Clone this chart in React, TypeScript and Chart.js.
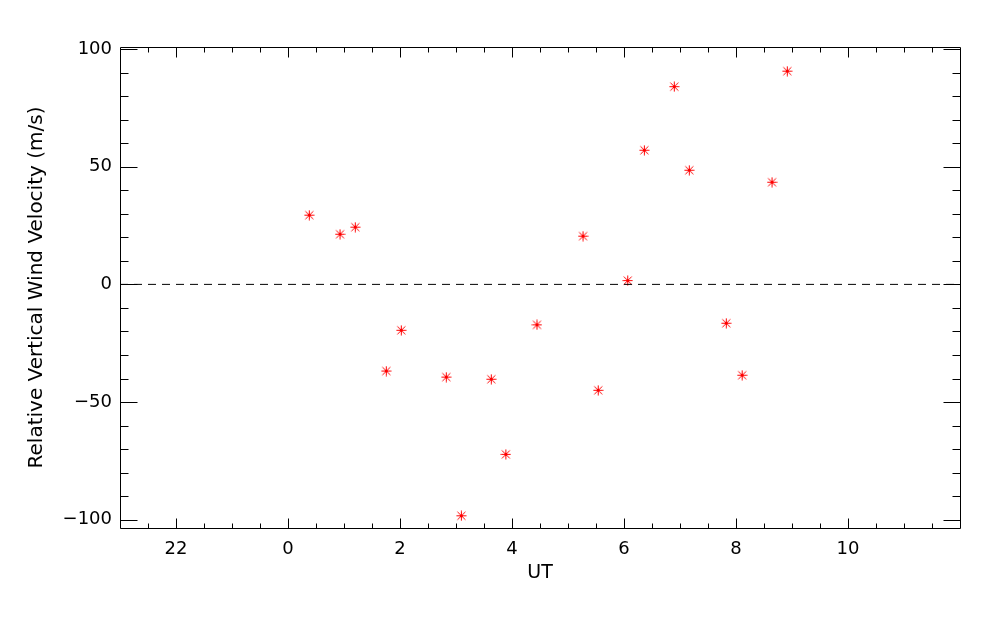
import React, { useEffect, useRef } from "react";
import { Chart, registerables } from "chart.js";

Chart.register(...registerables);

// UT hours (negative = previous day, e.g. -2 = 22 UT)
const utHours = [
  0.38, 0.929, 1.202, 1.755, 2.023, 2.827, 3.095, 3.63, 3.89, 4.446,
  5.268, 5.54, 6.066, 6.363, 6.898, 7.166, 7.827, 8.11, 8.643, 8.916,
];
const windVelocity = [
  29.4, 21.3, 24.3, -36.8, -19.5, -39.4, -98.3, -40.3, -72.2, -17.2,
  20.5, -45.0, 1.6, 57.0, 84.0, 48.5, -16.5, -38.6, 43.4, 90.6,
];
const zeroLineX = [-3, 12];
const zeroLineY = [0, 0];

const xTickValues = [-2, 0, 2, 4, 6, 8, 10];
const xTickLabels = ["22", "0", "2", "4", "6", "8", "10"];
const yTickValues = [-100, -50, 0, 50, 100];
const yTickLabels = ["\u2212100", "\u221250", "0", "50", "100"];

const X_MIN = -3;
const X_MAX = 12;
const Y_MIN = -103.5;
const Y_MAX = 100.85;

const FONT = "'DejaVu Sans', sans-serif";

function makeStar(): HTMLCanvasElement {
  const c = document.createElement("canvas");
  c.width = 11;
  c.height = 11;
  const g = c.getContext("2d")!;
  g.strokeStyle = "#ff0000";
  g.lineWidth = 1;
  g.beginPath();
  g.moveTo(5.5, 0.5);
  g.lineTo(5.5, 10.5);
  g.moveTo(0.5, 5.5);
  g.lineTo(10.5, 5.5);
  g.moveTo(1.5, 1.5);
  g.lineTo(9.5, 9.5);
  g.moveTo(9.5, 1.5);
  g.lineTo(1.5, 9.5);
  g.stroke();
  g.fillStyle = "#ff0000";
  g.fillRect(4, 4, 3, 3);
  return c;
}

const idlAxesPlugin = {
  id: "idlAxes",
  afterDraw(chart: any) {
    const { ctx, chartArea } = chart;
    const xs = chart.scales.x;
    const ys = chart.scales.y;
    const { left, right, top, bottom } = chartArea;
    ctx.save();
    ctx.strokeStyle = "#000";
    ctx.lineWidth = 1;
    ctx.beginPath();
    ctx.rect(left + 0.5, top + 0.5, right - left, bottom - top);
    // x ticks: major every 2 h, minor every 0.5 h
    for (let i = 0; i <= (X_MAX - X_MIN) * 2; i++) {
      const v = X_MIN + i * 0.5;
      if (v <= X_MIN || v >= X_MAX) continue;
      const major = Math.abs(v % 2) < 1e-9;
      const len = major ? 10 : 5;
      const px = Math.round(xs.getPixelForValue(v)) + 0.5;
      ctx.moveTo(px, bottom + 0.5);
      ctx.lineTo(px, bottom + 0.5 - len);
      ctx.moveTo(px, top + 0.5);
      ctx.lineTo(px, top + 0.5 + len);
    }
    // y ticks: major every 50, minor every 10
    for (let v = -100; v <= 100; v += 10) {
      const major = v % 50 === 0;
      const len = major ? 17 : 8;
      const py = Math.round(ys.getPixelForValue(v)) + 0.5;
      ctx.moveTo(left + 0.5, py);
      ctx.lineTo(left + 0.5 + len, py);
      ctx.moveTo(right + 0.5, py);
      ctx.lineTo(right + 0.5 - len, py);
    }
    ctx.stroke();
    ctx.restore();
  },
};

export default function App() {
  const canvasRef = useRef<HTMLCanvasElement | null>(null);

  useEffect(() => {
    if (!canvasRef.current) return;
    const star = makeStar();
    const points = utHours.map((x, i) => ({ x, y: windVelocity[i] }));
    const zero = zeroLineX.map((x, i) => ({ x, y: zeroLineY[i] }));

    const chart = new Chart(canvasRef.current, {
      type: "scatter",
      data: {
        datasets: [
          {
            type: "line",
            data: zero,
            borderColor: "#000",
            borderWidth: 1,
            borderDash: [8, 6],
            pointRadius: 0,
            fill: false,
          } as any,
          {
            data: points,
            pointStyle: star as any,
            pointRadius: 5,
            borderColor: "#ff0000",
            backgroundColor: "#ff0000",
          },
        ],
      },
      options: {
        responsive: false,
        animation: false,
        devicePixelRatio: 1,
        layout: { padding: { left: 0, top: 47, right: 40, bottom: 0 } },
        plugins: {
          legend: { display: false },
          tooltip: { enabled: false },
        },
        scales: {
          x: {
            type: "linear",
            min: X_MIN,
            max: X_MAX,
            afterBuildTicks: (s: any) => {
              s.ticks = xTickValues.map((value) => ({ value }));
            },
            afterFit: (s: any) => {
              s.height = 97;
            },
            ticks: {
              color: "#000",
              font: { family: FONT, size: 18 },
              padding: 11,
              maxRotation: 0,
              autoSkip: false,
              callback: (v: any) => {
                const i = xTickValues.indexOf(Number(v));
                return i >= 0 ? xTickLabels[i] : "";
              },
            },
            grid: { display: false, drawTicks: false },
            border: { display: false },
            title: {
              display: true,
              text: "UT",
              color: "#000",
              font: { family: FONT, size: 19 },
              padding: { top: 0, bottom: 41 },
            },
          },
          y: {
            type: "linear",
            min: Y_MIN,
            max: Y_MAX,
            afterBuildTicks: (s: any) => {
              s.ticks = yTickValues.map((value) => ({ value }));
            },
            afterFit: (s: any) => {
              s.width = 120;
            },
            ticks: {
              color: "#000",
              font: { family: FONT, size: 18 },
              padding: 8,
              autoSkip: false,
              callback: (v: any) => {
                const i = yTickValues.indexOf(Number(v));
                return i >= 0 ? yTickLabels[i] : "";
              },
            },
            grid: { display: false, drawTicks: false },
            border: { display: false },
            title: {
              display: true,
              text: "Relative Vertical Wind Velocity (m/s)",
              color: "#000",
              font: { family: FONT, size: 20 },
              padding: { top: 25, bottom: 0 },
            },
          },
        },
      },
      plugins: [idlAxesPlugin],
    });
    return () => chart.destroy();
  }, []);

  return (
    <div style={{ position: "fixed", left: 0, top: 0, width: 1000, height: 625, background: "#fff" }}>
      <canvas ref={canvasRef} width={1000} height={625} style={{ width: 1000, height: 625 }} />
    </div>
  );
}
